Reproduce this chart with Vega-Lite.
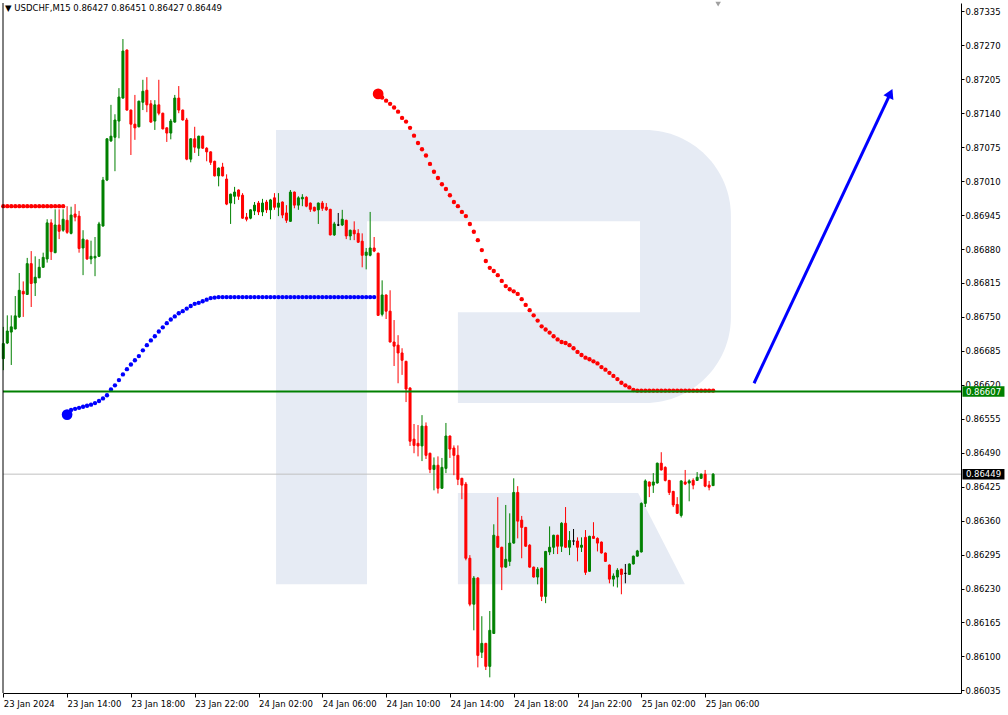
{
"$schema":"https://vega.github.io/schema/vega-lite/v6.json",
"width":958,"height":690,
"autosize":{"type":"none"},
"padding":{"left":3,"top":3,"right":47,"bottom":22},
"background":"white",
"config":{"view":{"stroke":null},"font":"DejaVu Sans","scale":{"continuousPadding":0},"axis":{"labelOverlap":false,"labelFlush":false,"labelBound":false},"axisY":{"labelOverlap":false,"tickCount":40}},
"title":{"text":"▼  USDCHF,M15  0.86427 0.86451 0.86427 0.86449","anchor":"start","offset":-11,"dx":4,"fontSize":8.5,"fontWeight":"normal","font":"DejaVu Sans","color":"#000000"},
"datasets":{
"c":[
{"t":"2024-01-23 10:00","o":0.86670,"h":0.86731,"l":0.86648,"c":0.86699,"red":0.86962},
{"t":"2024-01-23 10:15","o":0.86700,"h":0.86753,"l":0.86698,"c":0.86723,"red":0.86962},
{"t":"2024-01-23 10:30","o":0.86721,"h":0.86753,"l":0.86658,"c":0.86731,"red":0.86962},
{"t":"2024-01-23 10:45","o":0.86727,"h":0.86790,"l":0.86726,"c":0.86752,"red":0.86962},
{"t":"2024-01-23 11:00","o":0.86750,"h":0.86834,"l":0.86748,"c":0.86801,"red":0.86962},
{"t":"2024-01-23 11:15","o":0.86799,"h":0.86818,"l":0.86750,"c":0.86794,"red":0.86962},
{"t":"2024-01-23 11:30","o":0.86793,"h":0.86863,"l":0.86792,"c":0.86852,"red":0.86962},
{"t":"2024-01-23 11:45","o":0.86852,"h":0.86876,"l":0.86769,"c":0.86814,"red":0.86962},
{"t":"2024-01-23 12:00","o":0.86815,"h":0.86866,"l":0.86790,"c":0.86826,"red":0.86962},
{"t":"2024-01-23 12:15","o":0.86825,"h":0.86861,"l":0.86824,"c":0.86845,"red":0.86962},
{"t":"2024-01-23 12:30","o":0.86845,"h":0.86873,"l":0.86844,"c":0.86864,"red":0.86962},
{"t":"2024-01-23 12:45","o":0.86861,"h":0.86937,"l":0.86854,"c":0.86930,"red":0.86962},
{"t":"2024-01-23 13:00","o":0.86930,"h":0.86937,"l":0.86859,"c":0.86875,"red":0.86962},
{"t":"2024-01-23 13:15","o":0.86873,"h":0.86956,"l":0.86872,"c":0.86926,"red":0.86962},
{"t":"2024-01-23 13:30","o":0.86926,"h":0.86956,"l":0.86899,"c":0.86914,"red":0.86962},
{"t":"2024-01-23 13:45","o":0.86916,"h":0.86956,"l":0.86913,"c":0.86937,"red":0.86962},
{"t":"2024-01-23 14:00","o":0.86935,"h":0.86962,"l":0.86909,"c":0.86912,"blue":0.86563},
{"t":"2024-01-23 14:15","o":0.86910,"h":0.86961,"l":0.86908,"c":0.86945,"blue":0.86572},
{"t":"2024-01-23 14:30","o":0.86947,"h":0.86966,"l":0.86933,"c":0.86941,"blue":0.86574},
{"t":"2024-01-23 14:45","o":0.86943,"h":0.86953,"l":0.86873,"c":0.86881,"blue":0.86576},
{"t":"2024-01-23 15:00","o":0.86882,"h":0.86916,"l":0.86830,"c":0.86899,"blue":0.86578},
{"t":"2024-01-23 15:15","o":0.86897,"h":0.86898,"l":0.86859,"c":0.86861,"blue":0.86580},
{"t":"2024-01-23 15:30","o":0.86861,"h":0.86896,"l":0.86851,"c":0.86866,"blue":0.86582},
{"t":"2024-01-23 15:45","o":0.86863,"h":0.86903,"l":0.86828,"c":0.86866,"blue":0.86585},
{"t":"2024-01-23 16:00","o":0.86866,"h":0.86932,"l":0.86865,"c":0.86928,"blue":0.86589},
{"t":"2024-01-23 16:15","o":0.86924,"h":0.87018,"l":0.86923,"c":0.87012,"blue":0.86594},
{"t":"2024-01-23 16:30","o":0.87012,"h":0.87092,"l":0.87010,"c":0.87091,"blue":0.86600},
{"t":"2024-01-23 16:45","o":0.87087,"h":0.87156,"l":0.87085,"c":0.87096,"blue":0.86611},
{"t":"2024-01-23 17:00","o":0.87094,"h":0.87138,"l":0.87029,"c":0.87127,"blue":0.86619},
{"t":"2024-01-23 17:15","o":0.87125,"h":0.87188,"l":0.87092,"c":0.87171,"blue":0.86629},
{"t":"2024-01-23 17:30","o":0.87169,"h":0.87282,"l":0.87168,"c":0.87259,"blue":0.86640},
{"t":"2024-01-23 17:45","o":0.87261,"h":0.87262,"l":0.87145,"c":0.87146,"blue":0.86650},
{"t":"2024-01-23 18:00","o":0.87146,"h":0.87147,"l":0.87060,"c":0.87119,"blue":0.86659},
{"t":"2024-01-23 18:15","o":0.87119,"h":0.87175,"l":0.87089,"c":0.87112,"blue":0.86667},
{"t":"2024-01-23 18:30","o":0.87114,"h":0.87164,"l":0.87113,"c":0.87163,"blue":0.86675},
{"t":"2024-01-23 18:45","o":0.87161,"h":0.87204,"l":0.87146,"c":0.87182,"blue":0.86686},
{"t":"2024-01-23 19:00","o":0.87184,"h":0.87209,"l":0.87142,"c":0.87156,"blue":0.86696},
{"t":"2024-01-23 19:15","o":0.87158,"h":0.87165,"l":0.87122,"c":0.87123,"blue":0.86705},
{"t":"2024-01-23 19:30","o":0.87125,"h":0.87165,"l":0.87108,"c":0.87156,"blue":0.86713},
{"t":"2024-01-23 19:45","o":0.87156,"h":0.87204,"l":0.87136,"c":0.87140,"blue":0.86722},
{"t":"2024-01-23 20:00","o":0.87140,"h":0.87141,"l":0.87109,"c":0.87110,"blue":0.86730},
{"t":"2024-01-23 20:15","o":0.87112,"h":0.87113,"l":0.87085,"c":0.87102,"blue":0.86738},
{"t":"2024-01-23 20:30","o":0.87102,"h":0.87129,"l":0.87090,"c":0.87125,"blue":0.86745},
{"t":"2024-01-23 20:45","o":0.87123,"h":0.87175,"l":0.87122,"c":0.87169,"blue":0.86751},
{"t":"2024-01-23 21:00","o":0.87169,"h":0.87192,"l":0.87140,"c":0.87146,"blue":0.86757},
{"t":"2024-01-23 21:15","o":0.87146,"h":0.87147,"l":0.87126,"c":0.87127,"blue":0.86761},
{"t":"2024-01-23 21:30","o":0.87127,"h":0.87131,"l":0.87050,"c":0.87052,"blue":0.86766},
{"t":"2024-01-23 21:45","o":0.87052,"h":0.87092,"l":0.87046,"c":0.87091,"blue":0.86771},
{"t":"2024-01-23 22:00","o":0.87091,"h":0.87114,"l":0.87064,"c":0.87075,"blue":0.86775},
{"t":"2024-01-23 22:15","o":0.87073,"h":0.87097,"l":0.87058,"c":0.87096,"blue":0.86777},
{"t":"2024-01-23 22:30","o":0.87096,"h":0.87097,"l":0.87072,"c":0.87073,"blue":0.86780},
{"t":"2024-01-23 22:45","o":0.87073,"h":0.87075,"l":0.87048,"c":0.87066,"blue":0.86783},
{"t":"2024-01-23 23:00","o":0.87066,"h":0.87067,"l":0.87041,"c":0.87046,"blue":0.86786},
{"t":"2024-01-23 23:15","o":0.87048,"h":0.87049,"l":0.87019,"c":0.87020,"blue":0.86787},
{"t":"2024-01-23 23:30","o":0.87020,"h":0.87036,"l":0.87000,"c":0.87035,"blue":0.86788},
{"t":"2024-01-23 23:45","o":0.87037,"h":0.87045,"l":0.87019,"c":0.87020,"blue":0.86788},
{"t":"2024-01-24 00:00","o":0.87014,"h":0.87023,"l":0.86964,"c":0.86966,"blue":0.86788},
{"t":"2024-01-24 00:15","o":0.86968,"h":0.86986,"l":0.86928,"c":0.86985,"blue":0.86788},
{"t":"2024-01-24 00:30","o":0.86981,"h":0.86999,"l":0.86966,"c":0.86989,"blue":0.86788},
{"t":"2024-01-24 00:45","o":0.86993,"h":0.86994,"l":0.86974,"c":0.86981,"blue":0.86788},
{"t":"2024-01-24 01:00","o":0.86983,"h":0.86987,"l":0.86938,"c":0.86939,"blue":0.86788},
{"t":"2024-01-24 01:15","o":0.86941,"h":0.86949,"l":0.86933,"c":0.86937,"blue":0.86788},
{"t":"2024-01-24 01:30","o":0.86939,"h":0.86956,"l":0.86937,"c":0.86955,"blue":0.86788},
{"t":"2024-01-24 01:45","o":0.86953,"h":0.86970,"l":0.86945,"c":0.86964,"blue":0.86788},
{"t":"2024-01-24 02:00","o":0.86968,"h":0.86972,"l":0.86945,"c":0.86951,"blue":0.86788},
{"t":"2024-01-24 02:15","o":0.86951,"h":0.86976,"l":0.86943,"c":0.86968,"blue":0.86788},
{"t":"2024-01-24 02:30","o":0.86970,"h":0.86974,"l":0.86949,"c":0.86955,"blue":0.86788},
{"t":"2024-01-24 02:45","o":0.86955,"h":0.86976,"l":0.86937,"c":0.86974,"blue":0.86788},
{"t":"2024-01-24 03:00","o":0.86978,"h":0.86987,"l":0.86955,"c":0.86960,"blue":0.86788},
{"t":"2024-01-24 03:15","o":0.86960,"h":0.86987,"l":0.86943,"c":0.86968,"blue":0.86788},
{"t":"2024-01-24 03:30","o":0.86970,"h":0.86971,"l":0.86939,"c":0.86945,"blue":0.86788},
{"t":"2024-01-24 03:45","o":0.86949,"h":0.86964,"l":0.86930,"c":0.86935,"blue":0.86788},
{"t":"2024-01-24 04:00","o":0.86933,"h":0.86993,"l":0.86932,"c":0.86989,"blue":0.86788},
{"t":"2024-01-24 04:15","o":0.86989,"h":0.86990,"l":0.86958,"c":0.86964,"blue":0.86788},
{"t":"2024-01-24 04:30","o":0.86964,"h":0.86981,"l":0.86955,"c":0.86978,"blue":0.86788},
{"t":"2024-01-24 04:45","o":0.86976,"h":0.86985,"l":0.86962,"c":0.86979,"blue":0.86788},
{"t":"2024-01-24 05:00","o":0.86979,"h":0.86981,"l":0.86960,"c":0.86962,"blue":0.86788},
{"t":"2024-01-24 05:15","o":0.86968,"h":0.86969,"l":0.86951,"c":0.86956,"blue":0.86788},
{"t":"2024-01-24 05:30","o":0.86960,"h":0.86961,"l":0.86952,"c":0.86953,"blue":0.86788},
{"t":"2024-01-24 05:45","o":0.86955,"h":0.86969,"l":0.86928,"c":0.86968,"blue":0.86788},
{"t":"2024-01-24 06:00","o":0.86968,"h":0.86972,"l":0.86953,"c":0.86958,"blue":0.86788},
{"t":"2024-01-24 06:15","o":0.86960,"h":0.86968,"l":0.86953,"c":0.86955,"blue":0.86788},
{"t":"2024-01-24 06:30","o":0.86956,"h":0.86957,"l":0.86906,"c":0.86907,"blue":0.86788},
{"t":"2024-01-24 06:45","o":0.86907,"h":0.86932,"l":0.86905,"c":0.86928,"blue":0.86788},
{"t":"2024-01-24 07:00","o":0.86926,"h":0.86949,"l":0.86924,"c":0.86926,"blue":0.86788},
{"t":"2024-01-24 07:15","o":0.86926,"h":0.86955,"l":0.86924,"c":0.86937,"blue":0.86788},
{"t":"2024-01-24 07:30","o":0.86935,"h":0.86936,"l":0.86899,"c":0.86905,"blue":0.86788},
{"t":"2024-01-24 07:45","o":0.86905,"h":0.86917,"l":0.86897,"c":0.86916,"blue":0.86788},
{"t":"2024-01-24 08:00","o":0.86916,"h":0.86933,"l":0.86897,"c":0.86909,"blue":0.86788},
{"t":"2024-01-24 08:15","o":0.86910,"h":0.86918,"l":0.86892,"c":0.86893,"blue":0.86788},
{"t":"2024-01-24 08:30","o":0.86895,"h":0.86910,"l":0.86845,"c":0.86868,"blue":0.86788},
{"t":"2024-01-24 08:45","o":0.86868,"h":0.86882,"l":0.86841,"c":0.86874,"blue":0.86788},
{"t":"2024-01-24 09:00","o":0.86868,"h":0.86951,"l":0.86866,"c":0.86882,"blue":0.86788},
{"t":"2024-01-24 09:15","o":0.86882,"h":0.86903,"l":0.86874,"c":0.86876,"blue":0.86788},
{"t":"2024-01-24 09:30","o":0.86872,"h":0.86873,"l":0.86752,"c":0.86753,"red":0.87177},
{"t":"2024-01-24 09:45","o":0.86755,"h":0.86820,"l":0.86751,"c":0.86792,"red":0.87170},
{"t":"2024-01-24 10:00","o":0.86792,"h":0.86793,"l":0.86746,"c":0.86761,"red":0.87164},
{"t":"2024-01-24 10:15","o":0.86761,"h":0.86801,"l":0.86701,"c":0.86702,"red":0.87158},
{"t":"2024-01-24 10:30","o":0.86702,"h":0.86744,"l":0.86656,"c":0.86694,"red":0.87151},
{"t":"2024-01-24 10:45","o":0.86696,"h":0.86715,"l":0.86623,"c":0.86681,"red":0.87143},
{"t":"2024-01-24 11:00","o":0.86681,"h":0.86690,"l":0.86639,"c":0.86667,"red":0.87131},
{"t":"2024-01-24 11:15","o":0.86665,"h":0.86666,"l":0.86587,"c":0.86612,"red":0.87124},
{"t":"2024-01-24 11:30","o":0.86614,"h":0.86615,"l":0.86503,"c":0.86512,"red":0.87112},
{"t":"2024-01-24 11:45","o":0.86516,"h":0.86545,"l":0.86489,"c":0.86504,"red":0.87097},
{"t":"2024-01-24 12:00","o":0.86508,"h":0.86543,"l":0.86483,"c":0.86503,"red":0.87083},
{"t":"2024-01-24 12:15","o":0.86503,"h":0.86562,"l":0.86474,"c":0.86541,"red":0.87071},
{"t":"2024-01-24 12:30","o":0.86541,"h":0.86548,"l":0.86478,"c":0.86485,"red":0.87059},
{"t":"2024-01-24 12:45","o":0.86489,"h":0.86490,"l":0.86451,"c":0.86458,"red":0.87043},
{"t":"2024-01-24 13:00","o":0.86458,"h":0.86481,"l":0.86418,"c":0.86466,"red":0.87028},
{"t":"2024-01-24 13:15","o":0.86466,"h":0.86483,"l":0.86412,"c":0.86422,"red":0.87016},
{"t":"2024-01-24 13:30","o":0.86422,"h":0.86480,"l":0.86421,"c":0.86462,"red":0.87004},
{"t":"2024-01-24 13:45","o":0.86460,"h":0.86547,"l":0.86451,"c":0.86522,"red":0.86995},
{"t":"2024-01-24 14:00","o":0.86522,"h":0.86523,"l":0.86480,"c":0.86497,"red":0.86983},
{"t":"2024-01-24 14:15","o":0.86499,"h":0.86504,"l":0.86447,"c":0.86485,"red":0.86970},
{"t":"2024-01-24 14:30","o":0.86485,"h":0.86504,"l":0.86428,"c":0.86439,"red":0.86962},
{"t":"2024-01-24 14:45","o":0.86441,"h":0.86442,"l":0.86401,"c":0.86428,"red":0.86951},
{"t":"2024-01-24 15:00","o":0.86430,"h":0.86434,"l":0.86284,"c":0.86288,"red":0.86943},
{"t":"2024-01-24 15:15","o":0.86288,"h":0.86294,"l":0.86196,"c":0.86200,"red":0.86928},
{"t":"2024-01-24 15:30","o":0.86200,"h":0.86254,"l":0.86150,"c":0.86250,"red":0.86913},
{"t":"2024-01-24 15:45","o":0.86250,"h":0.86252,"l":0.86079,"c":0.86102,"red":0.86897},
{"t":"2024-01-24 16:00","o":0.86108,"h":0.86177,"l":0.86097,"c":0.86125,"red":0.86878},
{"t":"2024-01-24 16:15","o":0.86125,"h":0.86126,"l":0.86074,"c":0.86081,"red":0.86857},
{"t":"2024-01-24 16:30","o":0.86081,"h":0.86187,"l":0.86060,"c":0.86150,"red":0.86844},
{"t":"2024-01-24 16:45","o":0.86144,"h":0.86353,"l":0.86143,"c":0.86332,"red":0.86838},
{"t":"2024-01-24 17:00","o":0.86330,"h":0.86405,"l":0.86308,"c":0.86309,"red":0.86830},
{"t":"2024-01-24 17:15","o":0.86309,"h":0.86310,"l":0.86227,"c":0.86271,"red":0.86819},
{"t":"2024-01-24 17:30","o":0.86271,"h":0.86390,"l":0.86270,"c":0.86286,"red":0.86809},
{"t":"2024-01-24 17:45","o":0.86282,"h":0.86374,"l":0.86273,"c":0.86317,"red":0.86803},
{"t":"2024-01-24 18:00","o":0.86317,"h":0.86441,"l":0.86316,"c":0.86414,"red":0.86799},
{"t":"2024-01-24 18:15","o":0.86414,"h":0.86426,"l":0.86326,"c":0.86359,"red":0.86794},
{"t":"2024-01-24 18:30","o":0.86361,"h":0.86369,"l":0.86288,"c":0.86347,"red":0.86784},
{"t":"2024-01-24 18:45","o":0.86347,"h":0.86348,"l":0.86310,"c":0.86311,"red":0.86773},
{"t":"2024-01-24 19:00","o":0.86313,"h":0.86315,"l":0.86270,"c":0.86271,"red":0.86763},
{"t":"2024-01-24 19:15","o":0.86271,"h":0.86272,"l":0.86251,"c":0.86252,"red":0.86753},
{"t":"2024-01-24 19:30","o":0.86252,"h":0.86271,"l":0.86238,"c":0.86267,"red":0.86743},
{"t":"2024-01-24 19:45","o":0.86269,"h":0.86270,"l":0.86206,"c":0.86215,"red":0.86732},
{"t":"2024-01-24 20:00","o":0.86215,"h":0.86302,"l":0.86202,"c":0.86301,"red":0.86726},
{"t":"2024-01-24 20:15","o":0.86300,"h":0.86349,"l":0.86294,"c":0.86309,"red":0.86720},
{"t":"2024-01-24 20:30","o":0.86309,"h":0.86333,"l":0.86296,"c":0.86332,"red":0.86713},
{"t":"2024-01-24 20:45","o":0.86332,"h":0.86333,"l":0.86296,"c":0.86311,"red":0.86707},
{"t":"2024-01-24 21:00","o":0.86311,"h":0.86357,"l":0.86300,"c":0.86355,"red":0.86702},
{"t":"2024-01-24 21:15","o":0.86355,"h":0.86386,"l":0.86308,"c":0.86309,"red":0.86700},
{"t":"2024-01-24 21:30","o":0.86309,"h":0.86340,"l":0.86294,"c":0.86322,"red":0.86696},
{"t":"2024-01-24 21:45","o":0.86321,"h":0.86344,"l":0.86313,"c":0.86321,"red":0.86690},
{"t":"2024-01-24 22:00","o":0.86321,"h":0.86328,"l":0.86282,"c":0.86309,"red":0.86683},
{"t":"2024-01-24 22:15","o":0.86309,"h":0.86328,"l":0.86300,"c":0.86313,"red":0.86677},
{"t":"2024-01-24 22:30","o":0.86328,"h":0.86342,"l":0.86256,"c":0.86261,"red":0.86672},
{"t":"2024-01-24 22:45","o":0.86263,"h":0.86331,"l":0.86262,"c":0.86330,"red":0.86669},
{"t":"2024-01-24 23:00","o":0.86330,"h":0.86357,"l":0.86325,"c":0.86326,"red":0.86665},
{"t":"2024-01-24 23:15","o":0.86326,"h":0.86328,"l":0.86301,"c":0.86317,"red":0.86661},
{"t":"2024-01-24 23:30","o":0.86319,"h":0.86320,"l":0.86297,"c":0.86298,"red":0.86654},
{"t":"2024-01-24 23:45","o":0.86298,"h":0.86299,"l":0.86281,"c":0.86282,"red":0.86649},
{"t":"2024-01-25 00:00","o":0.86275,"h":0.86276,"l":0.86240,"c":0.86248,"red":0.86643},
{"t":"2024-01-25 00:15","o":0.86248,"h":0.86259,"l":0.86234,"c":0.86254,"red":0.86637},
{"t":"2024-01-25 00:30","o":0.86252,"h":0.86269,"l":0.86232,"c":0.86265,"red":0.86631},
{"t":"2024-01-25 00:45","o":0.86267,"h":0.86268,"l":0.86219,"c":0.86257,"red":0.86624},
{"t":"2024-01-25 01:00","o":0.86259,"h":0.86277,"l":0.86240,"c":0.86259,"red":0.86619},
{"t":"2024-01-25 01:15","o":0.86257,"h":0.86278,"l":0.86256,"c":0.86277,"red":0.86615},
{"t":"2024-01-25 01:30","o":0.86277,"h":0.86293,"l":0.86276,"c":0.86292,"red":0.86610},
{"t":"2024-01-25 01:45","o":0.86292,"h":0.86304,"l":0.86291,"c":0.86302,"red":0.86609},
{"t":"2024-01-25 02:00","o":0.86300,"h":0.86395,"l":0.86299,"c":0.86393,"red":0.86609},
{"t":"2024-01-25 02:15","o":0.86393,"h":0.86439,"l":0.86386,"c":0.86436,"red":0.86609},
{"t":"2024-01-25 02:30","o":0.86434,"h":0.86435,"l":0.86405,"c":0.86426,"red":0.86609},
{"t":"2024-01-25 02:45","o":0.86428,"h":0.86451,"l":0.86413,"c":0.86434,"red":0.86609},
{"t":"2024-01-25 03:00","o":0.86432,"h":0.86471,"l":0.86431,"c":0.86470,"red":0.86609},
{"t":"2024-01-25 03:15","o":0.86470,"h":0.86491,"l":0.86456,"c":0.86457,"red":0.86609},
{"t":"2024-01-25 03:30","o":0.86462,"h":0.86464,"l":0.86435,"c":0.86437,"red":0.86609},
{"t":"2024-01-25 03:45","o":0.86437,"h":0.86438,"l":0.86409,"c":0.86414,"red":0.86609},
{"t":"2024-01-25 04:00","o":0.86416,"h":0.86417,"l":0.86386,"c":0.86390,"red":0.86609},
{"t":"2024-01-25 04:15","o":0.86391,"h":0.86405,"l":0.86373,"c":0.86374,"red":0.86609},
{"t":"2024-01-25 04:30","o":0.86370,"h":0.86437,"l":0.86366,"c":0.86436,"red":0.86609},
{"t":"2024-01-25 04:45","o":0.86434,"h":0.86457,"l":0.86428,"c":0.86430,"red":0.86609},
{"t":"2024-01-25 05:00","o":0.86432,"h":0.86439,"l":0.86397,"c":0.86436,"red":0.86609},
{"t":"2024-01-25 05:15","o":0.86437,"h":0.86441,"l":0.86420,"c":0.86428,"red":0.86609},
{"t":"2024-01-25 05:30","o":0.86437,"h":0.86453,"l":0.86436,"c":0.86443,"red":0.86609},
{"t":"2024-01-25 05:45","o":0.86441,"h":0.86450,"l":0.86440,"c":0.86449,"red":0.86609},
{"t":"2024-01-25 06:00","o":0.86449,"h":0.86457,"l":0.86424,"c":0.86426,"red":0.86609},
{"t":"2024-01-25 06:15","o":0.86428,"h":0.86436,"l":0.86418,"c":0.86424,"red":0.86609},
{"t":"2024-01-25 06:30","o":0.86427,"h":0.86451,"l":0.86427,"c":0.86449,"red":0.86609}
]},
"layer":[
{"data":{"values":[{"t1":"2024-01-24 03:06","t2":"2024-01-24 08:48","p1":0.87108,"p2":0.86238}]},
 "mark":{"type":"rect","color":"#e6ebf4"},
 "encoding":{"x":{"field":"t1","type":"temporal","title":null,"scale":{"nice":false,"padding":0,"domain":[{"year":2024,"month":1,"date":23,"hours":9,"minutes":58,"seconds":52},{"year":2024,"month":1,"date":25,"hours":22,"minutes":2,"seconds":30}]},
   "axis":{"orient":"bottom","title":null,"grid":false,"tickCount":40,"values":[{"year":2024,"month":1,"date":23,"hours":10},{"year":2024,"month":1,"date":23,"hours":14},{"year":2024,"month":1,"date":23,"hours":18},{"year":2024,"month":1,"date":23,"hours":22},{"year":2024,"month":1,"date":24,"hours":2},{"year":2024,"month":1,"date":24,"hours":6},{"year":2024,"month":1,"date":24,"hours":10},{"year":2024,"month":1,"date":24,"hours":14},{"year":2024,"month":1,"date":24,"hours":18},{"year":2024,"month":1,"date":24,"hours":22},{"year":2024,"month":1,"date":25,"hours":2},{"year":2024,"month":1,"date":25,"hours":6}],
   "labelExpr":"timeFormat(datum.value, '%d %H') == '23 10' ? '23 Jan 2024' : timeFormat(datum.value, '%d %b %H:%M')",
   "domain":true,"domainColor":"#000000","domainWidth":1,"ticks":true,"tickColor":"#000000","tickSize":4,"labels":true,"labelAlign":"left","labelBaseline":"top","labelPadding":2,"labelFlush":false,"labelOverlap":false,"labelFont":"DejaVu Sans","labelFontSize":8.5,"labelColor":"#000000"}},
  "x2":{"field":"t2"},
  "y":{"field":"p1","type":"quantitative","title":null,"scale":{"nice":false,"zero":false,"padding":0,"domain":[0.8603,0.87351]},
   "axis":{"orient":"right","title":null,"grid":false,"tickCount":40,"values":[0.86035,0.861,0.86165,0.8623,0.86295,0.8636,0.86425,0.8649,0.86555,0.8662,0.86685,0.8675,0.86815,0.8688,0.86945,0.8701,0.87075,0.8714,0.87205,0.8727,0.87335],"format":".5f",
   "domain":true,"domainColor":"#000000","domainWidth":1,"ticks":true,"tickColor":"#000000","tickSize":3,"labels":true,"labelPadding":1,"labelAlign":"left","labelBaseline":"middle","labelOverlap":false,"labelFlush":false,"labelFont":"DejaVu Sans","labelFontSize":8.5,"labelColor":"#000000"}},
  "y2":{"field":"p2"}}},
{"data":{"values":[{"t1":"2024-01-24 03:06","t2":"2024-01-25 07:37","p1":0.87108,"p2":0.86585}]},
 "mark":{"type":"rect","color":"#e6ebf4","cornerRadiusTopRight":86,"cornerRadiusBottomRight":86},
 "encoding":{"x":{"field":"t1","type":"temporal","title":null},"x2":{"field":"t2"},
  "y":{"field":"p1","type":"quantitative","title":null},"y2":{"field":"p2"}}},
{"data":{"values":[{"t1":"2024-01-24 08:48","t2":"2024-01-25 01:55","p1":0.86933,"p2":0.86759},{"t1":"2024-01-24 08:48","t2":"2024-01-24 14:30","p1":0.86761,"p2":0.86580}]},
 "mark":{"type":"rect","color":"#ffffff"},
 "encoding":{"x":{"field":"t1","type":"temporal","title":null},"x2":{"field":"t2"},
  "y":{"field":"p1","type":"quantitative","title":null},"y2":{"field":"p2"}}},
{"data":{"values":[{"t":"2024-01-24 14:30","p1":0.86413,"p2":0.86238},{"t":"2024-01-25 01:48","p1":0.86413,"p2":0.86238},{"t":"2024-01-25 04:44","p1":0.86238,"p2":0.86238}]},
 "mark":{"type":"area","color":"#e6ebf4"},
 "encoding":{"x":{"field":"t","type":"temporal","title":null},
  "y":{"field":"p1","type":"quantitative","title":null},"y2":{"field":"p2"}}},
{"data":{"values":[{}]},
 "mark":{"type":"rule","color":"#c0c0c0","strokeWidth":1},
 "encoding":{"y":{"datum":0.86449,"type":"quantitative","title":null}}},
{"data":{"name":"c"},
 "mark":{"type":"rule","strokeWidth":1},
 "encoding":{
  "x":{"field":"t","type":"temporal","title":null},
  "y":{"field":"l","type":"quantitative","title":null},
  "y2":{"field":"h"},
  "color":{"condition":[{"test":"datum.c > datum.o","value":"#008000"},{"test":"datum.c < datum.o","value":"#ff0000"}],"value":"#000000"}}},
{"data":{"name":"c"},
 "mark":{"type":"bar","size":2,"strokeWidth":1},
 "encoding":{
  "x":{"field":"t","type":"temporal","title":null},
  "y":{"field":"o","type":"quantitative","title":null},
  "y2":{"field":"c"},
  "fill":{"condition":[{"test":"datum.c > datum.o","value":"#008000"},{"test":"datum.c < datum.o","value":"#ff0000"}],"value":"#000000"},
  "stroke":{"condition":[{"test":"datum.c > datum.o","value":"#008000"},{"test":"datum.c < datum.o","value":"#ff0000"}],"value":"#000000"}}},
{"data":{"name":"c"},
 "mark":{"type":"point","filled":true,"size":19,"opacity":1,"color":"#ff0000"},
 "encoding":{
  "x":{"field":"t","type":"temporal","title":null},
  "y":{"field":"red","type":"quantitative","title":null}}},
{"data":{"name":"c"},
 "mark":{"type":"point","filled":true,"size":19,"opacity":1,"color":"#0000ff"},
 "encoding":{
  "x":{"field":"t","type":"temporal","title":null},
  "y":{"field":"blue","type":"quantitative","title":null}}},
{"data":{"values":[{"t":"2024-01-23 14:00","v":0.86563}]},
 "mark":{"type":"point","filled":true,"size":115,"opacity":1,"color":"#0000ff"},
 "encoding":{
  "x":{"field":"t","type":"temporal","title":null},
  "y":{"field":"v","type":"quantitative","title":null}}},
{"data":{"values":[{"t":"2024-01-24 09:30","v":0.87177}]},
 "mark":{"type":"point","filled":true,"size":115,"opacity":1,"color":"#ff0000"},
 "encoding":{
  "x":{"field":"t","type":"temporal","title":null},
  "y":{"field":"v","type":"quantitative","title":null}}},
{"data":{"values":[{}]},
 "mark":{"type":"rule","color":"#008000","strokeWidth":2},
 "encoding":{"y":{"datum":0.86607,"type":"quantitative","title":null}}},
{"data":{"values":[{"t":"2024-01-25 09:04","p":0.86623},{"t":"2024-01-25 17:37","p":0.87178}]},
 "mark":{"type":"line","color":"#0000ff","strokeWidth":3},
 "encoding":{
  "x":{"field":"t","type":"temporal","title":null},
  "y":{"field":"p","type":"quantitative","title":null}}},
{"data":{"values":[{"t":"2024-01-25 17:37","p":0.87178}]},
 "mark":{"type":"point","shape":"triangle-up","angle":25,"filled":true,"size":120,"opacity":1,"color":"#0000ff"},
 "encoding":{
  "x":{"field":"t","type":"temporal","title":null},
  "y":{"field":"p","type":"quantitative","title":null}}},
{"data":{"values":[{"t":"2024-01-25 06:49","p":0.87349}]},
 "mark":{"type":"point","shape":"triangle-down","filled":true,"size":30,"opacity":1,"color":"#a0a0a0"},
 "encoding":{
  "x":{"field":"t","type":"temporal","title":null},
  "y":{"field":"p","type":"quantitative","title":null}}},
{"data":{"values":[{"v":0.86607,"lab":"0.86607"}]},
 "mark":{"type":"point","shape":"M-1,-0.25H1V0.25H-1Z","filled":true,"size":1764,"opacity":1,"color":"#008000"},
 "encoding":{
  "x":{"datum":{"year":2024,"month":1,"date":25,"hours":23,"minutes":27},"type":"temporal","title":null},
  "y":{"field":"v","type":"quantitative","title":null}}},
{"data":{"values":[{"v":0.86449,"lab":"0.86449"}]},
 "mark":{"type":"point","shape":"M-1,-0.25H1V0.25H-1Z","filled":true,"size":1764,"opacity":1,"color":"#000000"},
 "encoding":{
  "x":{"datum":{"year":2024,"month":1,"date":25,"hours":23,"minutes":27},"type":"temporal","title":null},
  "y":{"field":"v","type":"quantitative","title":null}}},
{"data":{"values":[{"v":0.86607,"lab":"0.86607"},{"v":0.86449,"lab":"0.86449"}]},
 "mark":{"type":"text","color":"#ffffff","font":"DejaVu Sans","fontSize":8.5,"align":"center","baseline":"middle"},
 "encoding":{
  "x":{"datum":{"year":2024,"month":1,"date":25,"hours":23,"minutes":27},"type":"temporal","title":null},
  "y":{"field":"v","type":"quantitative","title":null},
  "text":{"field":"lab"}}},
{"data":{"values":[{}]},
 "mark":{"type":"rule","color":"#000000","strokeWidth":1},
 "encoding":{"x":{"datum":{"year":2024,"month":1,"date":23,"hours":9,"minutes":58,"seconds":52},"type":"temporal","title":null}}}
]
}
